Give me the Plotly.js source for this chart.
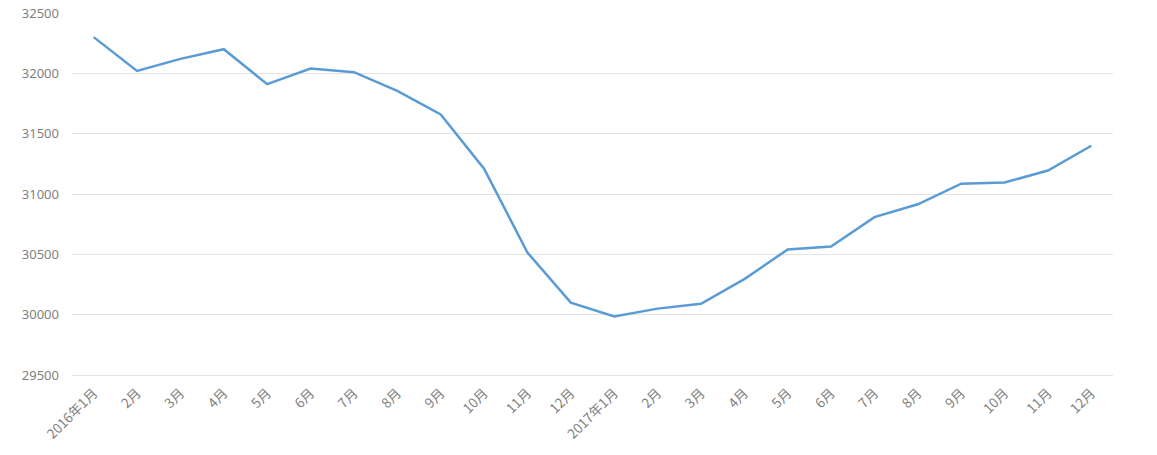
<!DOCTYPE html>
<html>
<head>
<meta charset="utf-8">
<script src="https://cdn.plot.ly/plotly-3.0.1.min.js"></script>
<style>html,body{margin:0;padding:0;background:#fff;}#chart{width:1157px;height:455px;}</style>
</head>
<body>
<div id="chart"></div>
<script>
var monthLabels = ["2016年1月","2月","3月","4月","5月","6月","7月","8月","9月","10月","11月","12月",
                   "2017年1月","2月","3月","4月","5月","6月","7月","8月","9月","10月","11月","12月"];
var values = [32300,32020,32120,32200,31910,32040,32010,31855,31660,31210,30515,30100,
              29985,30050,30090,30295,30540,30565,30808,30915,31085,31095,31195,31400];
var yTicks = [29500,30000,30500,31000,31500,32000,32500];

var idx = monthLabels.map(function(_, i){ return i; });

var trace = {
  x: idx,
  y: values,
  type: 'scatter',
  mode: 'lines',
  line: {color: '#5b9bd5', width: 2.5},
  hoverinfo: 'y'
};

var tickFont = {family: '"Noto Sans CJK SC", "Noto Sans", sans-serif', size: 13.5, color: '#7f7f7f'};

var layout = {
  width: 1157,
  height: 455,
  margin: {l: 72, r: 44, t: 13, b: 80},
  paper_bgcolor: '#ffffff',
  plot_bgcolor: '#ffffff',
  showlegend: false,
  xaxis: {
    range: [-0.5, monthLabels.length - 0.5],
    tickmode: 'array',
    tickvals: idx,
    ticktext: monthLabels,
    tickangle: -45,
    showgrid: false,
    zeroline: false,
    showline: true,
    linecolor: '#e3e3e3',
    linewidth: 1,
    ticks: '',
    ticklabelstandoff: 4,
    tickfont: tickFont,
    fixedrange: true
  },
  yaxis: {
    range: [29500, 32500],
    tickmode: 'array',
    tickvals: yTicks,
    ticktext: yTicks.map(String),
    showgrid: true,
    gridcolor: '#e3e3e3',
    gridwidth: 1,
    zeroline: false,
    showline: false,
    ticks: '',
    ticklabelstandoff: 12,
    tickfont: {family: '"Noto Sans", sans-serif', size: 13, color: '#7f7f7f'},
    fixedrange: true
  }
};

Plotly.newPlot('chart', [trace], layout, {displayModeBar: false, staticPlot: true});
</script>
</body>
</html>
